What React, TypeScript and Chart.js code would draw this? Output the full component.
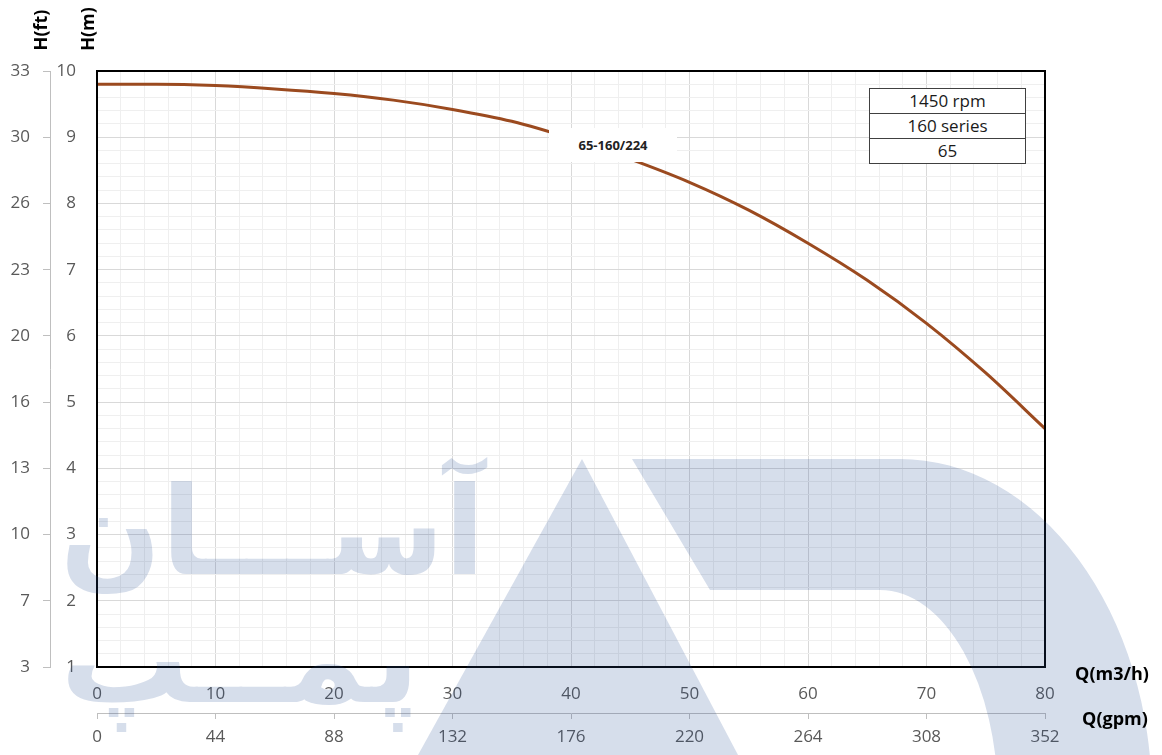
import React, { useEffect, useRef } from 'react';
import { Chart, registerables } from 'chart.js';

Chart.register(...registerables);

// ---- data ----
const flowM3h = [0, 5, 10, 15, 20, 25, 30, 35, 40, 45, 50, 55, 60, 65, 70, 75, 80];
const headM = [9.8, 9.8, 9.78, 9.73, 9.66, 9.56, 9.42, 9.24, 8.98, 8.67, 8.32, 7.9, 7.4, 6.84, 6.19, 5.44, 4.6];
const headFtLabels = ['3', '7', '10', '13', '16', '20', '23', '26', '30', '33']; // for H(m) = 1..10
const gpmMax = 352;
const gpmStep = 44;
const curveName = '65-160/224';
const infoRows = ['1450 rpm', '160 series', '65'];
const waterTopWord = 'آســـان';
const waterBottomWord = 'پمــپ';

const FONT = "'Open Sans', sans-serif";
const TICK_COLOR = '#595959';
const MAJOR_GRID = '#d9d9d9';
const MINOR_GRID = '#efefef';
const AXIS_GRAY = '#bfbfbf';
const CURVE_COLOR = '#9b4a1f';

const isInt = (v: number) => Math.abs(v - Math.round(v)) < 1e-6;

const borderPlugin = {
  id: 'areaBorder',
  afterDatasetsDraw(chart: any) {
    const { ctx, chartArea } = chart;
    ctx.save();
    ctx.strokeStyle = '#000';
    ctx.lineWidth = 2;
    ctx.strokeRect(chartArea.left, chartArea.top, chartArea.right - chartArea.left, chartArea.bottom - chartArea.top);
    ctx.restore();
  },
};

function fitText(ctx: CanvasRenderingContext2D, text: string, left: number, right: number, baseline: number, size: number) {
  ctx.save();
  ctx.font = `bold ${size}px "DejaVu Sans"`;
  (ctx as any).direction = 'rtl';
  ctx.textAlign = 'left';
  ctx.textBaseline = 'alphabetic';
  const w = ctx.measureText(text).width || 1;
  ctx.translate(left, baseline);
  ctx.scale((right - left) / w, 1);
  ctx.fillText(text, 0, 0);
  ctx.restore();
}

const watermarkPlugin = {
  id: 'watermark',
  afterDraw(chart: any) {
    const ctx: CanvasRenderingContext2D = chart.ctx;
    const off = document.createElement('canvas');
    off.width = chart.width;
    off.height = chart.height;
    const o = off.getContext('2d');
    if (!o) return;
    o.fillStyle = 'rgb(40,80,150)';
    // "A" shape
    o.beginPath();
    o.moveTo(582, 459);
    o.lineTo(738, 755);
    o.lineTo(418, 755);
    o.closePath();
    o.fill();
    // "D" shape
    o.beginPath();
    o.moveTo(632, 459);
    o.lineTo(900, 459);
    o.ellipse(900, 800, 252, 341, 0, -Math.PI / 2, 0);
    o.lineTo(998, 800);
    o.ellipse(880, 800, 118, 210, 0, 0, -Math.PI / 2, true);
    o.lineTo(710, 590);
    o.closePath();
    o.fill();
    // words
    fitText(o, waterTopWord, 60, 485, 574, 122);
    fitText(o, waterBottomWord, 60, 420, 702, 122);
    ctx.save();
    ctx.globalAlpha = 0.19;
    ctx.drawImage(off, 0, 0);
    ctx.restore();
  },
};

function PumpChart() {
  const ref = useRef<HTMLCanvasElement | null>(null);
  useEffect(() => {
    if (!ref.current) return;
    const chart = new Chart(ref.current, {
      type: 'line',
      data: {
        datasets: [
          {
            label: curveName,
            data: flowM3h.map((q, i) => ({ x: q, y: headM[i] })),
            borderColor: CURVE_COLOR,
            borderWidth: 3,
            pointRadius: 0,
            fill: false,
            cubicInterpolationMode: 'monotone',
          },
        ],
      },
      options: {
        animation: false,
        responsive: false,
        devicePixelRatio: 1,
        layout: { padding: { left: 0, right: 117, top: 71, bottom: 0 } },
        plugins: { legend: { display: false }, tooltip: { enabled: false }, title: { display: false } },
        scales: {
          x: {
            type: 'linear',
            position: 'bottom',
            weight: 0,
            min: 0,
            max: 80,
            afterFit: (s: any) => { s.height = 46; },
            ticks: {
              stepSize: 2,
              autoSkip: false,
              maxRotation: 0,
              padding: 17,
              color: TICK_COLOR,
              font: { family: FONT, size: 17 },
              callback: (v: any) => (isInt(v / 10) ? String(Math.round(v)) : ''),
            },
            grid: {
              drawTicks: false,
              color: (c: any) => (c.tick && isInt(c.tick.value / 10) ? MAJOR_GRID : MINOR_GRID),
            },
            border: { display: false },
          },
          x2: {
            type: 'linear',
            position: 'bottom',
            weight: 1,
            min: 0,
            max: gpmMax,
            afterFit: (s: any) => { s.height = 42; },
            ticks: {
              stepSize: gpmStep,
              autoSkip: false,
              maxRotation: 0,
              padding: 8,
              color: TICK_COLOR,
              font: { family: FONT, size: 17 },
            },
            grid: { drawOnChartArea: false, drawTicks: true, tickLength: 6, color: AXIS_GRAY },
            border: { display: true, color: AXIS_GRAY, width: 1 },
          },
          y: {
            type: 'linear',
            position: 'left',
            weight: 0,
            min: 1,
            max: 10,
            afterFit: (s: any) => { s.width = 47; },
            ticks: {
              stepSize: 0.2,
              autoSkip: false,
              padding: 21,
              color: TICK_COLOR,
              font: { family: FONT, size: 17 },
              callback: (v: any) => (isInt(v) ? String(Math.round(v)) : ''),
            },
            grid: {
              drawTicks: false,
              color: (c: any) => (c.tick && isInt(c.tick.value) ? MAJOR_GRID : MINOR_GRID),
            },
            border: { display: false },
          },
          y2: {
            type: 'linear',
            position: 'left',
            weight: 1,
            min: 1,
            max: 10,
            afterFit: (s: any) => { s.width = 50; },
            ticks: {
              stepSize: 1,
              autoSkip: false,
              padding: 13,
              color: TICK_COLOR,
              font: { family: FONT, size: 17 },
              callback: (v: any) => headFtLabels[Math.round(v) - 1] ?? '',
            },
            grid: { drawOnChartArea: false, drawTicks: true, tickLength: 7, color: AXIS_GRAY },
            border: { display: true, color: AXIS_GRAY, width: 1 },
          },
        },
      },
      plugins: [borderPlugin, watermarkPlugin],
    } as any);
    return () => chart.destroy();
  }, []);

  const titleStyle: React.CSSProperties = {
    position: 'absolute',
    fontFamily: FONT,
    fontWeight: 700,
    fontSize: 18,
    color: '#000',
    whiteSpace: 'nowrap',
    lineHeight: 1,
  };

  return (
    <div style={{ position: 'absolute', left: 0, top: 0, width: 1162, height: 755, background: '#fff', overflow: 'hidden' }}>
      <canvas ref={ref} width={1162} height={755} style={{ position: 'absolute', left: 0, top: 0, width: 1162, height: 755 }} />
      <div style={{ ...titleStyle, left: 40, top: 30, transform: 'translate(-50%,-50%) rotate(-90deg)' }}>H(ft)</div>
      <div style={{ ...titleStyle, left: 87, top: 29, transform: 'translate(-50%,-50%) rotate(-90deg)' }}>H(m)</div>
      <div style={{ ...titleStyle, left: 1112, top: 673, transform: 'translate(-50%,-50%)' }}>Q(m3/h)</div>
      <div style={{ ...titleStyle, left: 1115, top: 718, transform: 'translate(-50%,-50%)' }}>Q(gpm)</div>
      <div
        style={{
          position: 'absolute', left: 549, top: 128, width: 128, height: 34, background: '#fff',
          display: 'flex', alignItems: 'center', justifyContent: 'center',
          fontFamily: FONT, fontWeight: 700, fontSize: 13, color: '#222',
        }}
      >
        {curveName}
      </div>
      <div
        style={{
          position: 'absolute', left: 869, top: 88, width: 157, boxSizing: 'border-box',
          border: '1px solid #404040', background: '#fff', fontFamily: FONT, fontSize: 17, color: '#1a1a1a',
        }}
      >
        {infoRows.map((r, i) => (
          <div
            key={i}
            style={{
              height: 24, lineHeight: '24px', textAlign: 'center',
              borderTop: i === 0 ? 'none' : '1px solid #404040',
            }}
          >
            {r}
          </div>
        ))}
      </div>
    </div>
  );
}

export default function App() {
  return <PumpChart />;
}
